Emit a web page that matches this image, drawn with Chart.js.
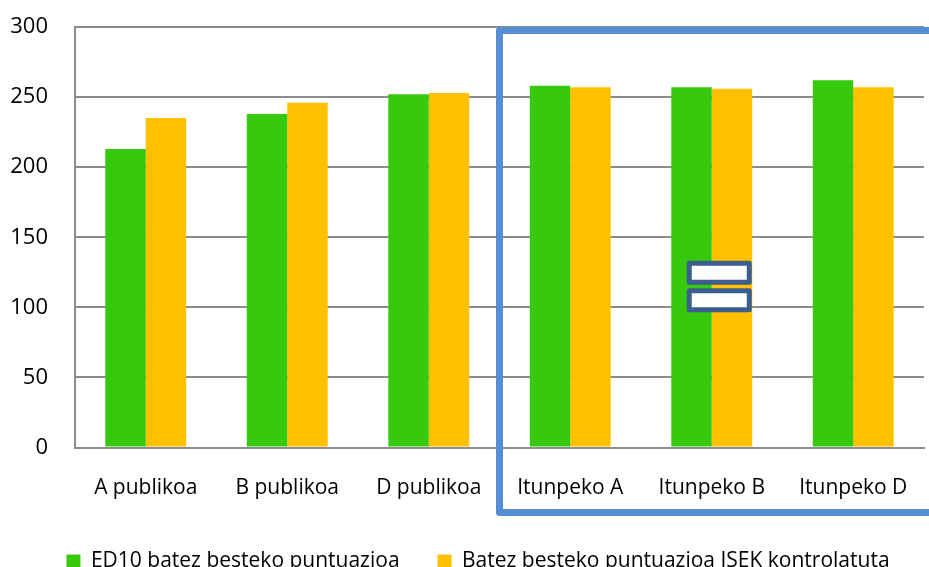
<!DOCTYPE html>
<html>
<head>
<meta charset="utf-8">
<script src="https://cdn.jsdelivr.net/npm/chart.js@4"></script>
<style>
  html, body { margin: 0; padding: 0; background: #fff; overflow: hidden; }
  #wrap { width: 929px; height: 582px; }
</style>
</head>
<body>
<div id="wrap"><canvas id="scoreChart" width="929" height="582"></canvas></div>
<script>
const categories = ["A publikoa", "B publikoa", "D publikoa", "Itunpeko A", "Itunpeko B", "Itunpeko D"];
const ed10Scores = [213, 238, 252, 258, 257, 262];
const isekScores = [235, 246, 253, 257, 256, 257];
const seriesNames = ["ED10 batez besteko puntuazioa", "Batez besteko puntuazioa ISEK kontrolatuta"];
const yTicks = [0, 50, 100, 150, 200, 250, 300];

const FONT = "'Open Sans', sans-serif";

// blue frame around the "itunpeko" group plus the "=" sign
const framePlugin = {
  id: "framePlugin",
  afterLayout(chart) {
    // legend sits a little right of centre in the original
    if (chart.legend) {
      chart.legend.left += 16;
      chart.legend.right += 16;
    }
  },
  afterDatasetsDraw(chart) {
    const ctx = chart.ctx;
    const x = chart.scales.x;
    const y = chart.scales.y;
    const step = x.getPixelForValue(1) - x.getPixelForValue(0);
    const left = x.getPixelForValue(2) + step / 2;
    const top = y.getPixelForValue(297.5);
    const bottom = chart.chartArea.bottom + 65;

    ctx.save();
    ctx.strokeStyle = "#558ED5";
    ctx.lineWidth = 7;
    ctx.lineJoin = "round";
    ctx.beginPath();
    ctx.moveTo(chart.width + 10, top);
    ctx.lineTo(left, top);
    ctx.lineTo(left, bottom);
    ctx.lineTo(chart.width + 10, bottom);
    ctx.stroke();

    // "=" sign
    const cx = x.getPixelForValue(4) + 7.5;
    const cy = y.getPixelForValue(115);
    ctx.strokeStyle = "#3B5E8C";
    ctx.fillStyle = "#fff";
    ctx.lineWidth = 5;
    [-13.5, 14].forEach(off => {
      ctx.fillRect(cx - 30, cy + off - 9.5, 60, 19);
      ctx.strokeRect(cx - 30, cy + off - 9.5, 60, 19);
    });
    ctx.restore();
  }
};

const ctx = document.getElementById("scoreChart").getContext("2d");
new Chart(ctx, {
  type: "bar",
  data: {
    labels: categories,
    datasets: [
      {
        label: seriesNames[0],
        data: ed10Scores,
        backgroundColor: "#36C90E",
        barPercentage: 1,
        categoryPercentage: 0.572
      },
      {
        label: seriesNames[1],
        data: isekScores,
        backgroundColor: "#FFC000",
        barPercentage: 1,
        categoryPercentage: 0.572
      }
    ]
  },
  options: {
    responsive: false,
    animation: false,
    layout: { padding: { top: 27, left: 0, right: 5, bottom: 0 } },
    plugins: {
      tooltip: { enabled: false },
      legend: {
        position: "bottom",
        labels: {
          boxWidth: 14,
          boxHeight: 14,
          padding: 38,
          color: "#000",
          font: { family: FONT, size: 21 }
        }
      }
    },
    scales: {
      x: {
        grid: { display: false, drawTicks: false },
        border: { display: true, color: "#8C8C8C", width: 2 },
        ticks: { color: "#000", padding: 28, maxRotation: 0, font: { family: FONT, size: 21 } },
        afterFit: (scale) => {
          scale.height = 65.5;
          scale.paddingLeft = 0;
          scale.paddingRight = 0;
        }
      },
      y: {
        min: 0,
        max: 300,
        afterBuildTicks: (scale) => { scale.ticks = yTicks.map(v => ({ value: v })); },
        grid: { color: "#8C8C8C", lineWidth: 2, drawTicks: false },
        border: { display: true, color: "#8C8C8C", width: 2 },
        ticks: { color: "#000", padding: 27, font: { family: FONT, size: 22 } },
        afterFit: (scale) => {
          scale.width = 75;
          scale.paddingTop = 0;
          scale.paddingBottom = 0;
        }
      }
    }
  },
  plugins: [framePlugin]
});
</script>
</body>
</html>
